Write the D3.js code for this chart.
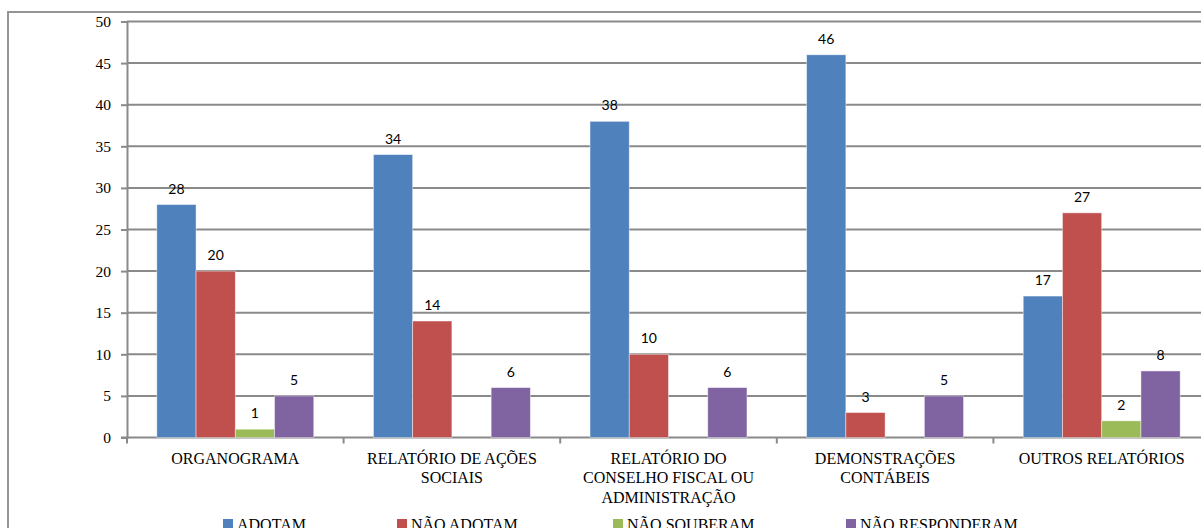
<!DOCTYPE html>
<html>
<head>
<meta charset="utf-8">
<script src="https://cdn.jsdelivr.net/npm/d3@7"></script>
<style>
  html, body { margin: 0; padding: 0; background: #fff; }
  svg { display: block; }
  .serif { font-family: "Liberation Serif", "Times New Roman", Tinos, "DejaVu Serif", serif; }
  .sans { font-family: Lato, Carlito, Calibri, "Open Sans", sans-serif; }
</style>
</head>
<body>
<svg id="chart" width="1201" height="528"></svg>
<script>
// Categories (multi-line labels) and series values
const categories = [
  ["ORGANOGRAMA"],
  ["RELATÓRIO DE AÇÕES", "SOCIAIS"],
  ["RELATÓRIO DO", "CONSELHO FISCAL OU", "ADMINISTRAÇÃO"],
  ["DEMONSTRAÇÕES", "CONTÁBEIS"],
  ["OUTROS RELATÓRIOS"]
];
const seriesNames = ["ADOTAM", "NÃO ADOTAM", "NÃO SOUBERAM", "NÃO RESPONDERAM"];
const adotam = [28, 34, 38, 46, 17];
const naoAdotam = [20, 14, 10, 3, 27];
const naoSouberam = [1, null, null, null, 2];
const naoResponderam = [5, 6, 6, 5, 8];
const yTicks = [0, 5, 10, 15, 20, 25, 30, 35, 40, 45, 50];

const colors = ["#4F81BD", "#C0504D", "#9BBB59", "#8064A2"];
const seriesValues = [adotam, naoAdotam, naoSouberam, naoResponderam];

// legend layout: left edge of each entry's swatch
const legendX = [223, 397, 613, 846];

const svg = d3.select("#chart");
const gridColor = "#8a8a8a";

// outer chart frame
svg.append("rect")
  .attr("x", 8).attr("y", 12)
  .attr("width", 1400).attr("height", 700)
  .attr("fill", "none").attr("stroke", gridColor).attr("stroke-width", 1.8);

const plotLeft = 127, plotRight = 1210, plotTop = 21.5, plotBottom = 437.5;
const catKeys = categories.map((c, i) => i);

const x0 = d3.scaleBand().domain(catKeys).range([plotLeft, plotRight]).padding(0);
const x1 = d3.scaleBand().domain(d3.range(seriesNames.length))
  .range([0, x0.bandwidth()]).paddingInner(0).paddingOuter(0.76);
const y = d3.scaleLinear().domain([0, 50]).range([plotBottom, plotTop]);

// horizontal gridlines
svg.append("g").selectAll("line")
  .data(yTicks.filter(t => t > 0))
  .join("line")
  .attr("x1", plotLeft).attr("x2", plotRight)
  .attr("y1", d => y(d)).attr("y2", d => y(d))
  .attr("stroke", gridColor).attr("stroke-width", 2);

// y axis
const yAxis = d3.axisLeft(y).tickValues(yTicks).tickSize(6).tickPadding(10).tickFormat(d3.format("d"));
const gy = svg.append("g").attr("transform", `translate(${plotLeft},0)`).call(yAxis);
gy.attr("font-family", null).attr("font-size", null);
gy.select(".domain").attr("stroke", gridColor).attr("stroke-width", 2);
gy.selectAll(".tick line").attr("stroke", gridColor).attr("stroke-width", 2);
gy.selectAll(".tick text")
  .attr("class", "serif")
  .style("font-size", "15.5px").attr("fill", "#000");

// x axis with ticks at category boundaries
svg.append("line")
  .attr("x1", plotLeft - 6).attr("x2", plotRight)
  .attr("y1", plotBottom).attr("y2", plotBottom)
  .attr("stroke", gridColor).attr("stroke-width", 2);
svg.append("g").selectAll("line")
  .data(catKeys.concat([catKeys.length]))
  .join("line")
  .attr("x1", d => plotLeft + d * x0.step()).attr("x2", d => plotLeft + d * x0.step())
  .attr("y1", plotBottom).attr("y2", plotBottom + 6)
  .attr("stroke", gridColor).attr("stroke-width", 2);

// category labels
const catLabels = svg.append("g")
  .attr("class", "serif")
  .style("font-size", "16px").attr("fill", "#000").attr("text-anchor", "middle");
categories.forEach((lines, i) => {
  const t = catLabels.append("text")
    .attr("x", x0(i) + x0.bandwidth() / 2)
    .attr("y", 463.5);
  lines.forEach((ln, j) => {
    t.append("tspan")
      .attr("x", x0(i) + x0.bandwidth() / 2)
      .attr("dy", j === 0 ? 0 : 19.8)
      .text(ln);
  });
});

// bars and value labels
const bars = svg.append("g");
const labels = svg.append("g")
  .attr("class", "sans")
  .style("font-size", "14px").attr("fill", "#000").attr("text-anchor", "middle");

seriesValues.forEach((vals, s) => {
  vals.forEach((v, i) => {
    if (v === null) return;
    const bx = x0(i) + x1(s);
    bars.append("rect")
      .attr("x", bx).attr("y", y(v))
      .attr("width", x1.bandwidth()).attr("height", y(0) - y(v))
      .attr("fill", colors[s])
      .attr("stroke", "rgba(255,255,255,0.55)").attr("stroke-width", 0.8);
    labels.append("text")
      .attr("x", bx + x1.bandwidth() / 2)
      .attr("y", y(v) - 11)
      .text(v);
  });
});

// legend (runs off the bottom edge of the frame)
const legend = svg.append("g")
  .attr("class", "serif")
  .style("font-size", "16px").attr("fill", "#000");
seriesNames.forEach((name, s) => {
  legend.append("rect")
    .attr("x", legendX[s]).attr("y", 519)
    .attr("width", 10).attr("height", 10)
    .attr("fill", colors[s]);
  legend.append("text")
    .attr("x", legendX[s] + 14).attr("y", 529.5)
    .text(name);
});
</script>
</body>
</html>
